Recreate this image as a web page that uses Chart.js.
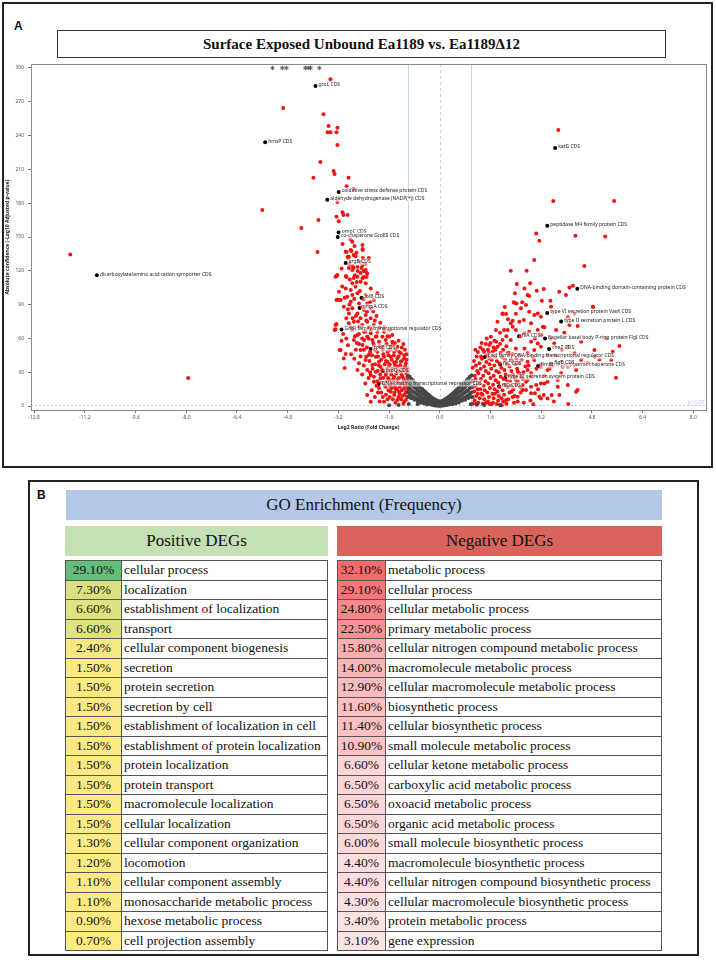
<!DOCTYPE html>
<html>
<head>
<meta charset="utf-8">
<script src="https://cdn.jsdelivr.net/npm/chart.js@4.4.0/dist/chart.umd.min.js"></script>
<style>
  body { margin: 0; width: 716px; height: 960px; background: #fff; position: relative; overflow: hidden; }
  .abs { position: absolute; box-sizing: border-box; }
  #panelA { left: 2px; top: 2px; width: 711px; height: 466px; border: 2px solid #222; }
  #panelB { left: 28px; top: 480px; width: 671px; height: 476px; border: 2px solid #222; }
  .panelLetter { font: bold 12px "Liberation Sans", Arial, sans-serif; color: #111; }
  #titleBox { left: 57px; top: 30px; width: 609px; height: 28px; border: 1px solid #333; background: #fff;
    font: bold 15px "Liberation Serif", serif; color: #111; text-align: center; line-height: 26px; }
  #volcano { position: absolute; left: 0; top: 0; }
  .head { font: 17px "Liberation Serif", serif; color: #111; text-align: center; }
  table.go { position: absolute; border-collapse: collapse; table-layout: fixed; font: 13.5px "Liberation Serif", serif;
    color: #111; border: 1.5px solid #333; }
  table.go td { border: 1px solid #555; padding: 0 0 0 2px; height: 18.5px; line-height: 16px; white-space: nowrap; overflow: hidden; }
  table.go td.pct { text-align: center; padding: 0; }
</style>
</head>
<body>
<div id="panelA" class="abs"></div>
<div class="abs panelLetter" style="left:14px; top:19px;">A</div>
<div id="titleBox" class="abs">Surface Exposed Unbound Ea1189 vs. Ea1189Δ12</div>
<canvas id="volcano" width="716" height="470"></canvas>

<div id="panelB" class="abs"></div>
<div class="abs panelLetter" style="left:37px; top:488px;">B</div>
<div class="abs head" style="left:66px; top:490px; width:596px; height:30px; line-height:30px; background:#b4c7e7;">GO Enrichment (Frequency)</div>
<div class="abs head" style="left:65px; top:526px; width:263px; height:30px; line-height:30px; background:#c5e0b4;">Positive DEGs</div>
<div class="abs head" style="left:337px; top:526px; width:325px; height:30px; line-height:30px; background:#d9645b;">Negative DEGs</div>
<table id="posTable" class="go" style="left:65px; top:560px; width:263px;"></table>
<table id="negTable" class="go" style="left:337px; top:560px; width:325px;"></table>

<script>
// volcano plot data: [log2 fold change, -log10 adjusted p]
const notSignificant = [
  [-1.00,27],[-1.00,22],[-1.00,17],[-1.00,12],[-1.00,8],[-0.95,26],[-0.95,21],[-0.95,16],[-0.95,11],
  [-0.90,24],[-0.90,19],[-0.90,14],[-0.90,9.5],[-0.90,7],[-0.85,23],[-0.85,18],[-0.85,13],[-0.85,8.5],
  [-0.80,21],[-0.80,16.5],[-0.80,12],[-0.80,7.5],[-0.80,5.5],[-0.75,20],[-0.75,15.5],[-0.75,11],[-0.75,7],
  [-0.70,18.5],[-0.70,14],[-0.70,10],[-0.70,6],[-0.70,4.5],[-0.65,17],[-0.65,13],[-0.65,9],[-0.65,5.5],
  [-0.60,16],[-0.60,12],[-0.60,8],[-0.60,4.5],[-0.60,3],[-0.55,15],[-0.55,11],[-0.55,7],[-0.55,4],
  [-0.50,13.5],[-0.50,10],[-0.50,6.5],[-0.50,3.5],[-0.50,2.2],[-0.45,12.5],[-0.45,9],[-0.45,5.5],[-0.45,3],
  [-0.40,11],[-0.40,8],[-0.40,5],[-0.40,2.5],[-0.40,1.4],[-0.35,10],[-0.35,7],[-0.35,4.2],[-0.35,2],
  [-0.30,8.5],[-0.30,6],[-0.30,3.5],[-0.30,1.5],[-0.25,7.5],[-0.25,5],[-0.25,2.8],[-0.25,1.2],
  [-0.20,6.5],[-0.20,4.2],[-0.20,2.2],[-0.20,0.8],[-0.15,5.8],[-0.15,3.6],[-0.15,1.8],[-0.15,0.6],
  [-0.10,5],[-0.10,3],[-0.10,1.4],[-0.10,0.4],[-0.05,4.4],[-0.05,2.5],[-0.05,1],[-0.05,0.3],
  [0,4],[0,2.2],[0,0.8],[0,0.2],
  [0.05,4.3],[0.05,2.4],[0.05,1],[0.05,0.3],[0.10,5],[0.10,3.1],[0.10,1.5],[0.10,0.5],
  [0.15,5.7],[0.15,3.7],[0.15,1.9],[0.15,0.7],[0.20,6.6],[0.20,4.3],[0.20,2.3],[0.20,0.9],
  [0.25,7.6],[0.25,5.1],[0.25,2.9],[0.25,1.2],[0.30,8.6],[0.30,6.1],[0.30,3.6],[0.30,1.6],
  [0.35,9.8],[0.35,7.1],[0.35,4.3],[0.35,2.1],[0.40,11],[0.40,8.1],[0.40,5.1],[0.40,2.6],[0.40,1.5],
  [0.45,12.3],[0.45,9.2],[0.45,5.8],[0.45,3.1],[0.50,13.6],[0.50,10.2],[0.50,6.7],[0.50,3.6],[0.50,2.3],
  [0.55,15],[0.55,11.2],[0.55,7.3],[0.55,4.1],[0.60,16.2],[0.60,12.3],[0.60,8.2],[0.60,4.7],[0.60,3.1],
  [0.65,17.3],[0.65,13.2],[0.65,9.1],[0.65,5.6],[0.70,18.6],[0.70,14.3],[0.70,10.1],[0.70,6.2],[0.70,4.6],
  [0.75,20.2],[0.75,15.6],[0.75,11.2],[0.75,7.1],[0.80,21.4],[0.80,16.8],[0.80,12.2],[0.80,7.7],[0.80,5.6],
  [0.85,23.1],[0.85,18.2],[0.85,13.3],[0.85,8.6],[0.90,24.3],[0.90,19.4],[0.90,14.2],[0.90,9.6],[0.90,7.1],
  [0.95,26.1],[0.95,21.1],[0.95,16.1],[0.95,11.2],[1.00,27.2],[1.00,22.1],[1.00,17.2],[1.00,12.1],[1.00,8.1],
  [-0.98,1.8],[-0.70,1.8],[0.98,1.6],[1.17,1.2],[-1.30,0.9],[1.40,1.0],[-1.60,0.7],[1.90,0.9]
];

const downRegulated = [
  [-3.45,290],[-4.94,264.5],[-3.67,259],[-3.51,248.5],[-3.23,247],[-3.54,243],[-3.45,243],[-3.26,243],
  [-3.23,231.6],[-3.77,216.6],[-3.35,208.6],[-3.32,206],[-3.99,202.6],[-2.88,202.6],[-2.94,195],[-2.72,192.6],
  [-3.23,181],[-5.60,174],[-3.07,172],[-3.04,169.5],[-2.91,169.5],[-3.26,168],[-3.83,165],[-3.19,164],
  [-4.37,158],[-2.82,148],[-3.07,143.8],[-2.69,142],[-3.86,136.7],[-2.94,136.7],[-2.79,137.5],[-2.63,136],
  [-11.66,134.5],[-7.94,25],
  [-2.43,138.4],[-2.91,132.2],[-2.88,131.3],[-2.43,131.3],[-2.24,131.3],[-2.75,124.2],[-2.72,122.4],[-2.47,122.4],
  [-2.59,119.8],[-2.40,119.8],[-2.31,118],[-3.26,115.4],[-2.94,114.5],[-2.72,113.6],[-2.40,114.5],[-2.31,114.5],
  [-2.76,145.8],[-2.44,142.9],[-2.97,136.9],[-2.81,138.4],[-2.72,134],[-2.44,139.4],[-2.87,132.5],[-2.66,133],
  [-2.87,122.4],[-2.76,120.7],[-2.60,123.6],[-2.44,125],[-2.34,120.7],[-3.23,116.2],[-2.97,115.4],[-2.84,112.4],
  [-2.60,114.7],[-2.44,113.3],[-2.29,117.7],[-2.50,110.3],[-2.76,108.9],[-2.34,108.9],[-2.66,105.9],[-2.97,104.4],
  [-2.81,102.9],[-3.18,101.4],[-2.18,104.4],[-1.97,100],[-2.60,100],[-2.76,98.5],[-2.92,97],[-2.34,98.5],
  [-3.23,94.6],[-3.13,94.1],[-2.81,92.5],[-2.55,91],[-2.29,91],[-2.08,94.1],[-3.03,88.1],[-2.76,86.7],
  [-2.39,85.2],[-2.18,86.7],[-2.87,82.2],[-2.60,82.2],[-2.34,80.7],[-2.18,77.8],[-2.50,77.8],[-2.71,74.8],
  [-2.29,74.8],[-2.87,73.4],[-3.29,71.9],[-2.55,70.4],[-2.08,71.9],[-3.29,68.1],[-2.76,67.4],[-2.39,65.9],
  [-2.18,64.5],[-1.97,65.9],[-1.76,65.9],[-1.60,67.4],[-2.60,63],[-2.29,61.5],[-2.02,61.5],[-1.81,61.5],
  [-1.60,61.5],[-2.71,58.6],[-2.39,58.6],[-2.13,58.6],[-1.92,57.1],[-1.71,58.6],[-1.50,57.1],[-2.44,54.1],
  [-2.08,54.1],[-1.81,52.6],[-1.55,52.6],[-1.34,52.6],[-3.13,49.7],[-2.50,49.7],[-1.97,48.2],[-1.65,48.2],
  [-1.44,48.2],[-1.23,46.8],[-2.24,45.3],[-2.02,43.8],[-1.76,43.8],[-1.55,43.8],[-1.34,42.3],[-1.13,42.3],
  [-3.03,42.3],[-2.34,40.8],[-1.92,39.3],[-1.65,39.3],[-1.44,38.4],[-1.23,39.3],[-1.07,37.9],[-2.13,36.4],
  [-1.87,34.9],[-1.60,35.5],[-1.34,34.9],[-1.13,34],[-3.00,33.7],[-2.29,32],[-2.02,30.4],[-1.55,30.4],
  [-1.23,30.4],[-1.02,30.4],[-2.18,27.5],[-1.71,27.5],[-1.44,26],[-1.18,26],[-1.02,26],[-1.87,24.6],
  [-1.60,23.1],[-1.34,23.1],[-1.07,22.4],[-2.08,21.6],[-1.50,20.1],[-1.23,19.5],[-1.02,19.5],[-1.71,17.1],
  [-1.39,15.6],[-1.13,15.6],[-1.55,12.7],[-1.29,12.7],[-1.07,11.8],[-1.44,9.8],[-1.18,8.9],[-2.29,9.8],
  [-2.18,3.8],[-1.76,3.8],[-1.34,5.3],[-1.07,5.3],
  [-3.29,114.8],[-3.26,94],[-3.16,94],[-3.32,67.5],[-3.26,72.8],[-3.16,49.7],[-2.97,46.1],
  [-1.95,44],[-1.85,41],[-1.78,46],[-1.70,40],[-1.62,45],[-1.52,41],[-1.45,45],[-1.38,39],[-1.30,44],[-1.20,40],[-1.12,45],[-1.05,41],
  [-1.92,36],[-1.82,32],[-1.74,37],[-1.66,33],[-1.58,37],[-1.49,33],[-1.41,36],[-1.33,31],[-1.25,36],[-1.16,32],[-1.09,35],[-1.02,33],
  [-1.88,28],[-1.79,25],[-1.69,29],[-1.63,25],[-1.53,28],[-1.47,24],[-1.37,29],[-1.29,25],[-1.21,28],[-1.14,24],[-1.06,29],[-1.01,24],
  [-1.83,21],[-1.73,18],[-1.66,22],[-1.57,18],[-1.49,21],[-1.41,17],[-1.33,21],[-1.26,17],[-1.17,21],[-1.10,18],[-1.03,21],
  [-1.62,14],[-1.52,16],[-1.43,12],[-1.36,15],[-1.27,11],[-1.20,14],[-1.12,10],[-1.05,13],[-1.00,15],
  [-2.05,50],[-1.90,53],[-1.80,50],[-1.68,55],[-1.58,50],[-1.48,55],[-1.40,50],[-2.20,48],[-2.10,56],[-2.30,52],
  [-2.00,62],[-2.15,68],[-2.25,60],[-1.90,70],[-2.35,66],[-2.45,72],[-2.05,76],[-2.55,64],[-2.65,80],[-2.45,88],
  [-2.70,95],[-2.85,90],[-2.52,102],[-2.40,95],[-2.30,84],[-2.95,78],[-2.80,70],[-2.62,56],[-2.50,44],[-2.40,36],
  [-2.25,25],[-2.00,18],[-1.95,12],[-1.80,8],[-1.65,6],[-1.40,3],[-1.15,2],
  [-2.95,60],[-3.05,64],[-2.90,54],[-3.10,58],[-2.65,50],[-2.80,46],[-2.55,38],[-2.70,42],[-2.45,28],[-2.60,32],
  [-2.35,20],[-2.15,14],[-2.05,8],[-1.90,4],[-2.45,60],[-2.58,75],[-2.75,78],[-2.90,86],[-3.00,96],[-3.08,106],
  [-2.62,110],[-2.50,118],[-2.35,126],[-2.52,128],[-2.68,116],[-2.85,126],[-3.10,122],[-2.20,92],[-2.10,84],[-2.00,80],
  [-1.88,74],[-1.75,70],[-1.65,62],[-1.50,63],[-1.42,56],[-1.30,58],[-1.20,52],[-1.10,50],[-1.05,46],[-1.15,55],
  [-1.28,48],[-2.22,40],[-2.12,33],[-2.20,30],[-2.08,26],[-1.97,22],[-1.92,16],[-1.85,12],[-1.70,10],[-1.58,8],
  [-1.48,6],[-1.30,8],[-1.22,6],[-1.12,4],[-1.03,8],[-1.96,31],[-2.04,37],[-2.14,45],[-2.32,44],[-2.40,50],
  [-2.55,55],[-2.68,62],[-2.22,70],[-2.32,76]
];

const upRegulated = [
  [3.74,245],[3.58,182],[5.50,182],[3.04,153],[3.14,146.7],[4.28,151],[5.22,150.5],
  [2.98,129.5],[4.56,124.2],[2.24,120],[2.74,120],[2.43,108.2],[2.85,108.9],[2.67,104.4],[3.06,102.3],
  [3.28,103.8],[3.77,101.4],[4.09,105.3],[4.20,106.8],[2.37,100],[2.77,98.5],[3.98,98.5],[2.33,92],
  [2.42,91],[3.22,93.4],[3.49,93.4],[2.56,86.7],[2.82,83.7],[3.51,88.1],[4.84,87.6],[1.98,82.2],
  [2.09,81.6],[2.98,80.7],[3.19,79.2],[4.04,78.7],[4.25,82.2],[1.82,74.8],[2.30,75.7],[2.65,76.3],
  [3.25,70.4],[4.09,71.9],[4.35,71],[1.77,67.4],[2.03,67.4],[2.30,70.4],[2.82,65.9],[3.09,67.4],
  [3.67,67.4],[3.93,65],[4.46,57.1],[5.67,53.2],[5.46,48.2],[5.04,41.4],[5.41,40.8],[4.04,34.9],
  [5.56,25.1],[4.30,12.7],
  [2.46,8.3],[2.72,14.2],[3.00,11.3],[3.19,6.8],[3.28,9.8],[3.53,9.8],[3.77,9.8],[3.19,20.1],
  [2.88,17.1],[2.61,18.6],[3.40,21.6],[3.72,23.1],[4.04,18.6],[3.83,29],[3.40,31.9],[4.25,36.4],
  [3.83,39.3],[4.46,40.8],[4.67,37.9],[4.88,43.8],[4.25,46.8],[4.88,49.7],[5.25,60],[4.04,52.6],
  [3.61,55.6],[3.19,52.6],[2.98,49.7],[2.77,46.8],[3.40,45.3],[2.98,40.8],[3.19,36.4],[2.77,31.9],
  [2.56,26],[2.77,23.1],[2.46,21.6],
  [2.82,97.6],[2.35,91.7],[2.72,89.6],[3.09,82.2],[1.98,81.6],[2.24,73.4],[2.51,74.8],[2.88,73.4],
  [2.14,67.4],[2.40,67.4],[2.67,64.5],[3.19,63],[1.61,61.5],[1.98,58.6],[2.24,58.6],[2.88,57.1],
  [3.09,55.6],[1.56,54.1],[1.82,52.6],[2.40,51.1],[2.67,51.1],[1.40,48.2],[1.67,48.2],[2.14,46.8],
  [2.51,45.3],[2.93,43.8],[1.30,43.8],[1.56,42.3],[2.24,40.8],[2.77,39.3],[3.19,34.9],[3.46,33.4],
  [3.88,34.9],[4.14,37.9],[2.46,30.4],[2.88,29],[2.40,23.1],[2.72,21.6],[3.04,18.6],[3.30,20.1],
  [3.72,17.1],[2.61,14.2],[2.88,11.3],[3.14,8.3],[3.40,6.8],[2.09,5.3],[4.35,14.2],[4.30,31.9],[4.83,88.1],
  [1.05,2],[1.10,5],[1.15,9],[1.08,13],[1.12,18],[1.06,22],[1.10,27],[1.18,31],[1.14,36],
  [1.22,3],[1.26,7],[1.20,11],[1.28,15],[1.24,20],[1.30,24],[1.22,29],[1.29,33],[1.25,38],[1.33,42],
  [1.36,2],[1.40,6],[1.35,10],[1.42,14],[1.38,18],[1.44,22],[1.37,27],[1.45,31],[1.40,35],[1.47,39],[1.50,45],
  [1.52,4],[1.55,8],[1.50,12],[1.58,16],[1.53,20],[1.60,25],[1.54,29],[1.62,33],[1.57,37],[1.64,41],
  [1.68,3],[1.70,7],[1.66,11],[1.73,15],[1.68,19],[1.76,23],[1.70,27],[1.78,31],[1.72,36],[1.80,40],[1.74,44],
  [1.84,5],[1.86,9],[1.82,13],[1.89,17],[1.84,21],[1.92,26],[1.86,30],[1.94,34],[1.88,38],[1.97,43],
  [2.00,4],[2.03,10],[1.98,14],[2.06,19],[2.01,24],[2.08,28],[2.04,32],[2.12,37],[2.06,41],
  [2.16,6],[2.20,12],[2.14,17],[2.22,22],[2.18,27],[2.26,31],[2.20,35],[2.28,40],
  [2.34,3],[2.36,9],[2.32,15],[2.40,19],[2.35,26],[2.44,33],[2.38,37],
  [2.55,12],[2.62,24],[2.50,29],[2.70,35],[2.58,41],[2.90,26],[3.05,33],[2.65,3],[2.95,1.5],[3.60,4],[4.05,1.8],[1.62,1.5],[1.95,0.8],
  [1.08,40],[1.16,44],[1.20,48],[1.28,52],[1.36,50],[1.45,55],[1.52,50],[1.60,56],[1.70,52],[1.78,57],
  [1.90,55],[2.00,50],[2.10,53],[2.18,47],[2.30,46],[2.42,42],[2.50,38],[2.30,28],[2.24,18],[2.30,8],
  [2.46,4],[2.54,17],[2.64,30],[2.80,36],[2.86,5],[3.10,15],[3.30,27],[3.55,36],[3.65,45],[3.85,50],
  [3.50,60],[3.30,70],[3.00,60],[2.55,62],[2.10,62],[1.90,65],[2.15,77],[2.40,82],[2.60,92],[2.05,88],
  [1.72,58],[1.48,60],[1.32,56],[1.12,50],[1.04,34],[1.04,17],[1.04,8],[1.13,24],[1.19,15],[1.16,2],
  [1.32,11],[1.46,3],[1.58,1.8],[1.74,11],[1.80,1.8],[1.95,7],[2.10,2],[2.12,23],[2.26,13],[1.92,47],
  [1.75,50],[1.55,47]
];

// genes marked in black and labelled
const geneNames = [
  'groL CDS', 'hmsP CDS', 'oxidative stress defense protein CDS', 'aldehyde dehydrogenase (NADP(+)) CDS',
  'ompC CDS', 'co-chaperone GroES CDS', 'dicarboxylate/amino acid:cation symporter CDS', 'argB CDS',
  'lolB CDS', 'ompA CDS', 'GntR family transcriptional regulator CDS', 'rpoE CDS', 'proQ CDS',
  'DNA-binding transcriptional repressor CDS', 'katG CDS', 'peptidase M4 family protein CDS',
  'DNA-binding domain-containing protein CDS', 'type VI secretion protein VasK CDS', 'type II secretion protein L CDS',
  'fliA CDS', 'flagellar basal body P-ring protein FlgI CDS', 'cheZ CDS',
  'LacI family DNA-binding transcriptional regulator CDS', 'fliC CDS', 'fimbrial periplasmic chaperone CDS',
  'flgB CDS', 'type III secretion system protein CDS', 'fliD CDS'
];
const geneX = [-3.92, -5.51, -3.19, -3.55, -3.19, -3.22, -10.82, -2.97, -2.47, -2.53, -3.10, -2.18, -1.80, -1.93,
  3.64, 3.39, 4.34, 3.39, 3.83, 2.50, 3.32, 3.45, 1.42, 1.90, 3.10, 3.52, 2.06, 1.87];
const geneY = [284, 234, 190, 183, 154, 150, 116, 127, 96, 87, 68, 50.6, 31, 19.5,
  229, 160, 104, 82.5, 75, 62, 60, 50.6, 43.5, 37, 35.5, 37.5, 25, 17.6];

// points capped at the top of the axis (drawn as stars)
const cappedX = [-5.28, -4.97, -4.84, -4.24, -4.15, -4.08, -3.80];
const cappedY = 300;

const xTicks = [-12.8, -11.2, -9.6, -8.0, -6.4, -4.8, -3.2, -1.6, 0.0, 1.6, 3.2, 4.8, 6.4, 8.0];
const yTicks = [0, 30, 60, 90, 120, 150, 180, 210, 240, 270, 300];
const foldLines = [-1, 1];
const centerLine = 0;
const pLine = 1.3;

// GO enrichment tables
const posPct = [29.1, 7.3, 6.6, 6.6, 2.4, 1.5, 1.5, 1.5, 1.5, 1.5, 1.5, 1.5, 1.5, 1.5, 1.3, 1.2, 1.1, 1.1, 0.9, 0.7];
const posTerm = ['cellular process', 'localization', 'establishment of localization', 'transport',
  'cellular component biogenesis', 'secretion', 'protein secretion', 'secretion by cell',
  'establishment of localization in cell', 'establishment of protein localization', 'protein localization',
  'protein transport', 'macromolecule localization', 'cellular localization', 'cellular component organization',
  'locomotion', 'cellular component assembly', 'monosaccharide metabolic process', 'hexose metabolic process',
  'cell projection assembly'];
const negPct = [32.1, 29.1, 24.8, 22.5, 15.8, 14.0, 12.9, 11.6, 11.4, 10.9, 6.6, 6.5, 6.5, 6.5, 6.0, 4.4, 4.4, 4.3, 3.4, 3.1];
const negTerm = ['metabolic process', 'cellular process', 'cellular metabolic process', 'primary metabolic process',
  'cellular nitrogen compound metabolic process', 'macromolecule metabolic process',
  'cellular macromolecule metabolic process', 'biosynthetic process', 'cellular biosynthetic process',
  'small molecule metabolic process', 'cellular ketone metabolic process', 'carboxylic acid metabolic process',
  'oxoacid metabolic process', 'organic acid metabolic process', 'small molecule biosynthetic process',
  'macromolecule biosynthetic process', 'cellular nitrogen compound biosynthetic process',
  'cellular macromolecule biosynthetic process', 'protein metabolic process', 'gene expression'];

function toPoints(arr) {
    return arr.map(p => ({ x: p[0], y: p[1] }));
}

// threshold lines + plot frame, drawn with the chart's own scales
const guidePlugin = {
    id: 'guides',
    beforeDatasetsDraw(chart) {
        const { ctx, chartArea: a, scales: { x, y } } = chart;
        ctx.save();
        ctx.lineWidth = 0.8;
        ctx.strokeStyle = '#b9cbec';
        foldLines.forEach(v => {
            const px = Math.round(x.getPixelForValue(v)) + 0.5;
            ctx.beginPath(); ctx.moveTo(px, a.top); ctx.lineTo(px, a.bottom); ctx.stroke();
        });
        ctx.strokeStyle = '#c4c4c4';
        ctx.setLineDash([3, 3]);
        const cx = Math.round(x.getPixelForValue(centerLine)) + 0.5;
        ctx.beginPath(); ctx.moveTo(cx, a.top); ctx.lineTo(cx, a.bottom); ctx.stroke();
        ctx.strokeStyle = '#a9bfe8';
        ctx.setLineDash([2, 2]);
        const py = Math.round(y.getPixelForValue(pLine)) + 0.5;
        ctx.beginPath(); ctx.moveTo(a.left, py); ctx.lineTo(a.right, py); ctx.stroke();
        ctx.setLineDash([]);
        ctx.fillStyle = '#b5c6e6';
        ctx.font = '4.5px "Noto Sans"';
        ctx.textAlign = 'right';
        ctx.fillText('p = 0.05', a.right - 2, py - 2);
        ctx.restore();
    },
    afterDraw(chart) {
        const { ctx, chartArea: a } = chart;
        ctx.save();
        ctx.strokeStyle = '#8a8a8a';
        ctx.lineWidth = 1;
        ctx.strokeRect(Math.round(a.left) + 0.5, Math.round(a.top) + 0.5, Math.round(a.right - a.left), Math.round(a.bottom - a.top));
        ctx.restore();
    }
};

const labelPlugin = {
    id: 'geneLabels',
    afterDatasetsDraw(chart) {
        const { ctx, scales: { x, y } } = chart;
        ctx.save();
        ctx.font = '5px "Noto Sans"';
        ctx.textBaseline = 'middle';
        geneNames.forEach((name, i) => {
            const px = x.getPixelForValue(geneX[i]) + 2;
            const py = y.getPixelForValue(geneY[i]) - 1;
            const w = ctx.measureText(name).width;
            ctx.fillStyle = 'rgba(255,255,255,0.55)';
            ctx.fillRect(px, py - 3.5, w + 2, 7);
            ctx.fillStyle = '#222';
            ctx.fillText(name, px + 1, py);
        });
        ctx.restore();
    }
};

const tickFont = { family: '"Noto Sans"', size: 5 };

new Chart(document.getElementById('volcano'), {
    type: 'scatter',
    data: {
        datasets: [
            { data: toPoints(notSignificant), backgroundColor: '#474747', pointRadius: 2, borderWidth: 0 },
            { data: toPoints(downRegulated), backgroundColor: '#f21313', pointRadius: 2, borderWidth: 0 },
            { data: toPoints(upRegulated), backgroundColor: '#f21313', pointRadius: 2, borderWidth: 0 },
            { data: geneX.map((v, i) => ({ x: v, y: geneY[i] })), backgroundColor: '#000', pointRadius: 2, borderWidth: 0 },
            { data: cappedX.map(v => ({ x: v, y: cappedY })), pointStyle: 'star', borderColor: '#555',
              backgroundColor: '#555', pointRadius: 2.2, borderWidth: 0.9 }
        ]
    },
    options: {
        responsive: false,
        animation: false,
        layout: { padding: { top: 64, right: 10, bottom: 39, left: 0 } },
        plugins: { legend: { display: false }, tooltip: { enabled: false } },
        scales: {
            x: {
                type: 'linear', min: -12.9, max: 8.4,
                afterBuildTicks: s => { s.ticks = xTicks.map(v => ({ value: v })); },
                afterFit: s => { s.height = 21; },
                border: { display: false },
                grid: { drawOnChartArea: false, tickLength: 3, color: '#777' },
                ticks: { font: tickFont, color: '#555', padding: 2, maxRotation: 0,
                         callback: v => v.toFixed(1) },
                title: { display: true, text: 'Log2 Ratio (Fold Change)', color: '#222',
                         font: { family: '"Noto Sans"', size: 5, weight: 'bold' }, padding: 0 }
            },
            y: {
                type: 'linear', min: -3.5, max: 303.5,
                afterBuildTicks: s => { s.ticks = yTicks.map(v => ({ value: v })); },
                afterFit: s => { s.width = 31; },
                border: { display: false },
                grid: { drawOnChartArea: false, tickLength: 3, color: '#777' },
                ticks: { font: tickFont, color: '#555', padding: 4 },
                title: { display: true, text: 'Absolute confidence (-Log10 Adjusted p-value)', color: '#222',
                         font: { family: '"Noto Sans"', size: 5, weight: 'bold' }, padding: { top: 5, bottom: 0 } }
            }
        }
    },
    plugins: [guidePlugin, labelPlugin]
});

// colour scales for the percentage cells
function mix(c1, c2, t) {
    return 'rgb(' + c1.map((c, k) => Math.round(c + (c2[k] - c) * t)).join(',') + ')';
}
function fillTable(id, pcts, terms, lowCol, highCol, pctWidth) {
    const table = document.getElementById(id);
    const lo = Math.min(...pcts), hi = Math.max(...pcts);
    let html = '<colgroup><col style="width:' + pctWidth + 'px"><col></colgroup>';
    pcts.forEach((p, i) => {
        const t = (p - lo) / (hi - lo);
        html += '<tr><td class="pct" style="background:' + mix(lowCol, highCol, t) + '">' + p.toFixed(2) + '%</td>' +
                '<td>' + terms[i] + '</td></tr>';
    });
    table.innerHTML = html;
}
fillTable('posTable', posPct, posTerm, [255, 235, 132], [99, 190, 123], 56);
fillTable('negTable', negPct, negTerm, [252, 228, 229], [248, 105, 107], 48);
</script>
</body>
</html>
